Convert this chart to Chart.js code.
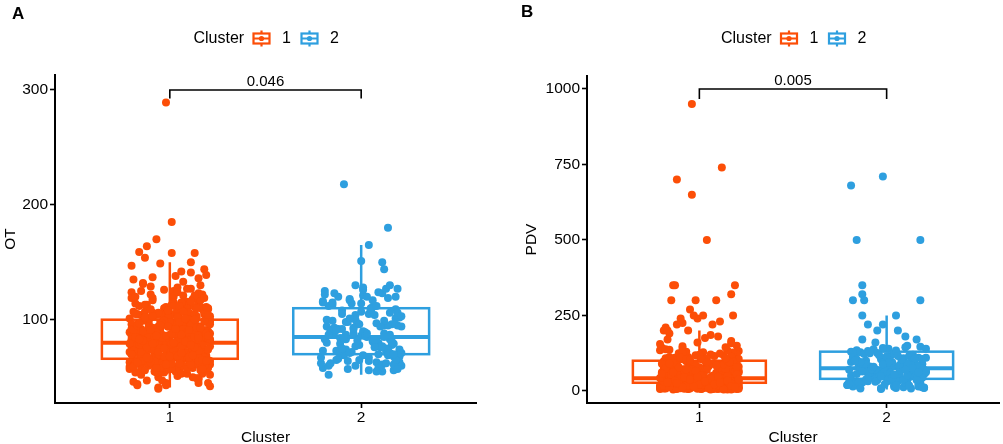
<!DOCTYPE html>
<html><head><meta charset="utf-8">
<script src="https://cdn.jsdelivr.net/npm/chart.js@4.4.1/dist/chart.umd.min.js"></script>
<style>
html,body{margin:0;padding:0;background:#fff;}
#wrap{position:relative;width:1003px;height:444px;overflow:hidden;}
.pane{position:absolute;top:0;height:444px;}
#pa{left:0;width:500px;} #pb{left:500px;width:503px;}
</style></head><body>
<div id="wrap">
  <div class="pane" id="pa"><canvas id="ca" width="500" height="444"></canvas></div>
  <div class="pane" id="pb"><canvas id="cb" width="503" height="444"></canvas></div>
</div>
<script>
// ---------- data ----------
const categories = ['1', '2'];
const legendTitle = 'Cluster';
const xTitle = 'Cluster';
const yTitles = ['OT', 'PDV'];
const panelLetters = ['A', 'B'];
const pLabels = ['0.046', '0.005'];
const yTicksA = [100, 200, 300];
const yTicksB = [0, 250, 500, 750, 1000];

// box stats: [lower whisker, Q1, median, Q3, upper whisker]
const otBox1 = [41, 66, 80, 100, 150];
const otBox2 = [52, 70, 85, 110, 165];
const pdvBox1 = [5, 27, 42, 100, 200];
const pdvBox2 = [5, 40, 75, 130, 250];

// significance brackets: [tip end, bracket level]
const bracketA = [292.5, 300];
const bracketB = [967, 1000];

// horizontal jitter of each observation (hundredths of a category)
const jitter1 = [
-18,5,12,-3,20,-11,7,-20,15,0,-7,19,-14,3,10,-16,8,-1,17,-9,
13,-19,2,21,-5,9,-12,16,-2,-17,6,11,-8,18,-15,4,-21,14,-6,1,
-13,20,7,-4,15,-18,10,-10,3,19,-20,8,-3,12,-14,17,-7,0,21,-11,
5,-16,18,-1,9,-19,14,-6,2,-12,20,-9,11,-17,6,16,-2,-15,13,4,
-8,21,-13,1,17,-4,10,-20,7,15,-10,3,-18,19,-5,12,-14,8,-21,0,
16,-7,4,-16,11,20,-11,6,-3,14,-19,9,18,-12,2,-6,13,-17,5,21,
-9,1,15,-20,8,-2,19,-13,10,-8,3,17,-15,12,-1,20,-18,7,-10,14,
-5,11,-21,6,16,-14,0,18,-7,9,-17,13,-4,21,-12,4,15,-19,2,-9,
19,-3,8,-15,12,-10,17,-1,5,-20,14,-6,10,-13,20,1,-16,7,-8,16,
-2,13,-18,3,21,-11,9,-5,15,-14,6,18,-9,0,11,-19,4,17,-6,-12,
7,-15,20,-4,13,-20,1,16,-11,9,-7,18,-2,12,-18,5,-13,19,-9,3,
-19,10,-6,15,-1,21,-14,6,-10,17,-3,11,-16,2,20,-8,14,-12,8,-5,
14,-21,4,-9,18,-4,11,-17,0,13,-12,21,-7,6,-15,16,-2,9,-19,12,
-11,3,17,-14,8,-6,19,-1,15,-18,5,-10,20,-3,10,-16,1,18,-13,7,
2,-17,12,-8,21,-12,6,15,-5,9,-20,17,-1,13,-9,4,-14,19,-6,11,
-16,9,3,-10,18,-3,13,-19,7,0,-13,20,-6,15,-21,10,-1,5,-11,17,
11,-5,-18,14,1,-9,19,-14,6,-2,16,-20,8,3,-7,12,-17,21,-4,0,
-20,15,-8,5,19,-12,2,10,-16,13,-1,-6,18,-11,7,-19,14,4,-3,9,
6,-13,17,-7,-15,11,-2,20,-10,3,14,-18,1,8,-5,19,-12,16,-21,-8,
-3,18,-11,12,-6,4,21,-17,9,-14,0,15,-9,6,20,-4,11,-15,2,-19,
17,-1,8,-20,13,-7,3,-12,19,-4,10,-16,15,5,-10,1,-18,12,-2,20,
-14,7,-19,16,0,-8,12,4,-15,21,-6,9,-13,18,2,-11,14,-3,6,-17,
10,-21,5,-2,15,-9,20,-12,1,17,-5,13,-16,8,-20,3,19,-7,11,-1
];
const jitter2 = [
12,-17,4,19,-8,1,-20,15,-3,9,-12,20,-6,7,-15,17,2,-10,13,-19,
6,-1,18,-14,10,-5,21,-18,3,14,-9,0,16,-21,8,-4,11,-13,19,-7,
-16,5,20,-11,1,13,-2,17,-20,9,-8,15,4,-14,21,-6,10,-18,7,-3,
18,-12,2,-19,14,-7,11,0,-15,19,-4,8,-10,16,3,-21,12,-1,6,-17,
-9,20,-5,13,-13,1,17,-20,10,-2,15,-11,5,-16,21,-8,9,14,-3,7,
-14,11,0,-18,16,-6,4,19,-10,12,
-11,7,17,-4,2,-15,13,-8,20,5,-19,9,-1,15,-12,3,18,-6,11,-16,
8,-20,14,-3,-9,19,1,-13,16,6,-7,12,-17,4,21,-10,10,-2,-14,17
];

// OT values, cluster 1 and cluster 2
const otC1 = [
72,95,58,110,83,64,121,77,49,101,88,69,132,55,92,75,116,61,84,106,
67,79,125,52,98,71,113,86,45,93,60,127,81,74,104,57,89,118,66,97,
103,62,76,47,115,85,70,129,59,91,78,108,54,96,73,122,65,87,42,100,
82,112,56,94,68,135,80,50,105,63,90,119,76,44,99,71,111,58,86,128,
61,88,107,74,53,97,83,124,66,48,102,79,114,57,92,69,131,84,63,95,
117,70,51,89,78,109,60,94,126,73,46,101,85,67,120,55,98,77,106,64,
90,57,123,81,69,43,104,75,112,62,93,87,52,118,72,99,65,133,80,49,
76,103,59,91,130,68,85,110,54,96,71,121,63,82,47,107,88,74,115,61,
98,66,84,125,50,92,78,108,58,119,73,87,64,102,45,95,81,113,69,90,
56,111,79,67,100,86,127,62,94,75,53,105,83,70,116,60,97,77,41,89,
78,92,65,104,71,86,113,59,97,82,68,109,75,90,54,101,80,63,117,87,
93,70,84,61,108,77,99,66,122,85,57,96,73,112,81,64,103,89,69,79,
66,101,83,74,119,58,91,105,72,87,62,98,80,114,68,94,76,53,107,85,
88,73,110,64,95,81,56,102,76,120,69,90,84,61,106,78,97,67,113,82,
75,96,62,86,103,70,115,79,58,92,83,109,66,99,74,124,87,60,94,77,
84,71,97,63,88,76,105,59,92,80,68,110,74,86,57,99,81,66,94,78,
70,89,62,101,77,93,65,85,108,73,56,96,82,69,104,75,90,61,87,98,
92,67,80,112,58,86,74,100,63,95,79,70,107,84,60,91,76,103,68,83,
77,102,64,89,72,96,81,58,109,69,93,85,62,100,75,88,66,111,79,55,
99,60,87,74,106,68,83,95,57,90,78,64,103,71,86,97,61,80,92,73,
65,94,81,70,100,58,88,76,111,84,67,97,73,62,91,79,105,69,86,74,
82,107,59,93,68,85,77,102,64,96,72,89,56,99,80,66,110,75,87,63,
91,72,98,61,84,79,104,67,88,57,95,76,83,101,70,92,64,86,78,108
];
const otC2 = [
88,112,67,95,74,121,58,83,104,70,92,63,117,79,99,56,86,108,72,125,
81,65,101,90,76,114,60,94,85,119,69,107,78,62,97,88,123,73,103,57,
91,110,68,84,126,75,96,61,115,80,87,106,64,93,71,118,59,100,82,77,
109,66,89,122,74,98,55,86,113,70,92,63,105,81,120,67,95,78,111,60,
84,102,72,127,65,90,79,116,58,97,87,73,108,62,94,83,124,69,100,76,
89,61,114,80,96,71,105,57,92,85,
79,104,68,93,86,115,62,98,74,109,83,58,96,71,120,88,65,101,77,90,
112,73,95,60,84,106,69,91,80,117,64,99,87,56,103,75,94,82,123,70
];
// further OT observations with their own jitter
const otExtra1 = [289,185,170,164,159,154,147,158,158,150,149,142,141,144,139,137,136,138,40,43,45];
const otExtra1Jit = [-2,1,-7,-12,-16,-13,-20,1,13,11,-5,6,11,18,19,-9,15,3,-6,-17,15];
const otExtra2 = [218,180,165,151,150,144,130,127,120,130,128,52,55];
const otExtra2Jit = [-9,14,4,0,11,12,15,19,18,-3,1,-17,8];

// PDV values, cluster 1 and cluster 2
const pdvC1 = [
12,35,88,20,150,31,6,62,27,115,18,40,9,73,33,190,24,52,14,105,
38,8,128,29,45,16,96,36,22,170,11,58,30,82,19,42,135,26,7,68,
110,34,15,48,23,210,39,10,77,28,143,17,55,37,5,92,25,120,13,44,
32,65,21,160,8,41,100,27,14,85,36,225,19,50,30,11,118,24,70,39,
16,132,28,6,60,35,180,22,90,12,47,31,108,18,40,9,75,26,155,33,
20,98,37,13,54,29,125,7,43,24,200,15,66,34,10,112,27,46,21,80,
140,31,9,57,38,17,102,25,6,72,35,165,14,49,29,122,20,40,11,94,
26,60,15,185,33,8,78,23,130,37,12,51,28,106,19,41,5,87,30,148,
42,18,116,26,10,64,34,240,21,53,13,97,36,7,45,27,136,16,71,32,
11,83,24,175,38,14,56,29,103,9,44,22,126,35,17,69,30,158,6,48,
22,70,8,45,118,30,14,92,36,60,19,127,27,10,84,40,16,55,33,100,
12,48,26,134,7,66,38,21,110,29,15,76,42,9,58,24,145,34,18,88,
31,6,95,23,52,13,124,37,20,68,28,11,104,41,17,62,35,8,80,25,
44,15,113,32,9,74,26,56,19,138,39,12,86,30,64,22,7,98,36,50,
18,82,29,10,61,43,121,16,35,90,24,5,72,38,14,107,27,47,11,66,
15,52,28,9,74,36,20,98,12,44,31,6,63,24,17,85,39,11,57,27,
33,8,46,21,105,14,68,30,5,54,25,90,18,41,10,76,35,22,60,13,
48,26,7,82,34,16,59,29,112,11,42,23,70,37,6,51,19,95,28,40,
9,65,32,17,50,25,87,13,38,22,73,8,45,30,102,15,56,27,10,67,
36,19,78,12,43,28,7,61,33,93,20,49,14,38,25,71,9,53,31,16,
24,58,11,40,88,18,35,6,64,29,47,13,99,26,42,20,75,8,37,55,
62,14,30,96,21,45,10,69,27,39,17,84,33,7,52,23,108,15,41,29,
19,43,8,66,34,12,79,26,50,16,38,5,91,22,57,31,13,72,28,46
];
const pdvC2 = [
45,120,18,88,62,140,30,75,105,12,95,55,160,38,82,22,115,68,8,130,
50,98,25,72,145,35,110,15,85,60,125,42,78,20,102,65,150,28,90,48,
135,10,70,100,33,118,58,80,24,108,46,92,14,128,66,40,86,112,52,6,
76,122,36,96,60,138,27,84,16,106,54,74,132,44,94,20,116,64,32,100,
81,11,126,56,90,40,110,70,26,142,48,88,18,104,62,78,36,120,9,68,
96,52,114,30,84,72,124,44,58,92,
38,86,15,118,60,28,96,72,10,134,50,82,22,108,66,42,146,30,90,56,
104,24,76,48,128,12,94,64,36,116,80,18,100,54,140,32,70,88,8,62
];
const pdvExtra1 = [950,700,650,740,500,350,350,350,320,300,300,300,270,250,250,250,240,230,220,220,200,200];
const pdvExtra1Jit = [-4,-12,-4,12,4,-14,-13,19,17,-15,-2,9,-5,-3,2,18,-10,11,-12,7,-17,-6];
const pdvExtra2 = [710,680,500,500,350,320,300,300,300,250,250,220,220,200,200,180,170,170];
const pdvExtra2Jit = [-2,-19,-16,18,-13,-13,-18,-12,18,-13,5,-10,-2,-5,6,10,-13,16];

// ---------- styling ----------
const FONT = "'Liberation Sans', Arial, Helvetica, sans-serif";
const COLORS = ['#FC4E07', '#2E9FDF'];

function toPoints(cat, jit, vals) {
  return vals.map((v, i) => ({ x: cat + jit[i] / 100, y: v }));
}

const panelPlugin = {
  id: 'panel',
  beforeDatasetsDraw(chart, args, o) {
    const { ctx, scales: { x, y } } = chart;
    o.boxes.forEach((b, i) => {
      const c = i + 1;
      const cx = x.getPixelForValue(c);
      const l = x.getPixelForValue(c - o.halfWidth), r = x.getPixelForValue(c + o.halfWidth);
      const [mn, q1, md, q3, mx] = b.map(v => y.getPixelForValue(v));
      ctx.save();
      ctx.strokeStyle = COLORS[i];
      ctx.lineWidth = 2.5;
      ctx.beginPath();
      ctx.moveTo(cx, q3); ctx.lineTo(cx, mx);
      ctx.moveTo(cx, q1); ctx.lineTo(cx, mn);
      ctx.stroke();
      ctx.strokeRect(l, q3, r - l, q1 - q3);
      ctx.lineWidth = 4;
      ctx.beginPath(); ctx.moveTo(l, md); ctx.lineTo(r, md); ctx.stroke();
      ctx.restore();
    });
  },
  afterDraw(chart, args, o) {
    const { ctx, scales: { x, y }, chartArea } = chart;
    ctx.save();
    // bracket
    const x1 = x.getPixelForValue(1), x2 = x.getPixelForValue(2);
    const yt = y.getPixelForValue(o.bracket[0]), yb = y.getPixelForValue(o.bracket[1]);
    ctx.strokeStyle = '#000'; ctx.lineWidth = 1.6;
    ctx.beginPath();
    ctx.moveTo(x1, yt); ctx.lineTo(x1, yb); ctx.lineTo(x2, yb); ctx.lineTo(x2, yt);
    ctx.stroke();
    ctx.fillStyle = '#000';
    ctx.font = '15px ' + FONT;
    ctx.textAlign = 'center'; ctx.textBaseline = 'alphabetic';
    ctx.fillText(o.pLabel, (x1 + x2) / 2, yb - 4);
    // legend
    const cx = (chartArea.left + chartArea.right) / 2;
    const ly = 38.5;
    ctx.font = '16px ' + FONT;
    ctx.textAlign = 'left'; ctx.textBaseline = 'middle';
    ctx.fillText(legendTitle, cx - 72, ly);
    const iconX = [cx - 4, cx + 44];
    const labX = [cx + 21, cx + 69];
    categories.forEach((c, i) => {
      const ix = iconX[i];
      ctx.strokeStyle = COLORS[i]; ctx.fillStyle = COLORS[i];
      ctx.lineWidth = 2.2;
      ctx.strokeRect(ix - 8, ly - 5, 16, 10);
      ctx.beginPath();
      ctx.moveTo(ix - 8, ly); ctx.lineTo(ix + 8, ly);
      ctx.moveTo(ix, ly - 5); ctx.lineTo(ix, ly - 8);
      ctx.moveTo(ix, ly + 5); ctx.lineTo(ix, ly + 8);
      ctx.stroke();
      ctx.beginPath(); ctx.arc(ix, ly, 2.6, 0, Math.PI * 2); ctx.fill();
      ctx.fillStyle = '#000'; ctx.textAlign = 'center';
      ctx.fillText(c, labX[i], ly);
    });
    // panel letter
    ctx.font = 'bold 17px ' + FONT;
    ctx.textAlign = 'left'; ctx.textBaseline = 'alphabetic';
    ctx.fillStyle = '#000';
    ctx.fillText(o.letter, o.letterPos[0], o.letterPos[1]);
    ctx.restore();
  }
};

function makeChart(id, p) {
  const tickFont = { family: FONT, size: 15.5 };
  const axisCommon = {
    grid: { display: true, drawOnChartArea: false, drawTicks: true, tickLength: 5, tickColor: '#000', tickWidth: 1.6 },
    border: { display: true, color: '#000', width: 2 }
  };
  return new Chart(document.getElementById(id), {
    type: 'scatter',
    data: {
      datasets: [
        { data: toPoints(1, jitter1, p.v1).concat(toPoints(1, p.e1j, p.e1)),
          backgroundColor: COLORS[0], borderWidth: 0, pointRadius: 4, pointHoverRadius: 4 },
        { data: toPoints(2, jitter2, p.v2).concat(toPoints(2, p.e2j, p.e2)),
          backgroundColor: COLORS[1], borderWidth: 0, pointRadius: 4, pointHoverRadius: 4 }
      ]
    },
    options: {
      responsive: false,
      animation: false,
      devicePixelRatio: 1,
      layout: { padding: { left: p.padLeft, right: p.padRight, top: p.padTop, bottom: 0 } },
      plugins: {
        legend: { display: false },
        tooltip: { enabled: false },
        panel: { boxes: p.boxes, halfWidth: 0.355, bracket: p.bracket, pLabel: p.pLabel, letter: p.letter, letterPos: p.letterPos }
      },
      scales: {
        x: Object.assign({
          type: 'linear', min: 0.4, max: 2.6,
          afterBuildTicks: s => { s.ticks = categories.map((c, i) => ({ value: i + 1 })); },
          afterFit: s => { s.height = 41; },
          ticks: { color: '#000', font: tickFont, padding: 0, maxRotation: 0, autoSkip: false,
                   callback: v => categories[Math.round(v) - 1] },
          title: { display: true, text: xTitle, color: '#000', font: tickFont, padding: { top: 0, bottom: -3 } }
        }, axisCommon),
        y: Object.assign({
          min: p.ymin, max: p.ymax,
          afterBuildTicks: s => { s.ticks = p.yticks.map(v => ({ value: v })); },
          afterFit: s => { s.width = p.yWidth; },
          ticks: { color: '#000', font: tickFont, padding: 2, callback: v => String(v) },
          title: { display: true, text: p.ytitle, color: '#000', font: tickFont, padding: { top: 0, bottom: 0 } }
        }, axisCommon)
      }
    },
    plugins: [panelPlugin]
  });
}

makeChart('ca', {
  v1: otC1, v2: otC2, e1: otExtra1, e1j: otExtra1Jit, e2: otExtra2, e2j: otExtra2Jit,
  boxes: [otBox1, otBox2], bracket: bracketA, pLabel: pLabels[0], letter: panelLetters[0], letterPos: [12, 18.5],
  ymin: 27.5, ymax: 313, yticks: yTicksA, ytitle: yTitles[0], padLeft: 1, yWidth: 54, padRight: 24, padTop: 75
});
makeChart('cb', {
  v1: pdvC1, v2: pdvC2, e1: pdvExtra1, e1j: pdvExtra1Jit, e2: pdvExtra2, e2j: pdvExtra2Jit,
  boxes: [pdvBox1, pdvBox2], bracket: bracketB, pLabel: pLabels[1], letter: panelLetters[1], letterPos: [21, 16.7],
  ymin: -40, ymax: 1043, yticks: yTicksB, ytitle: yTitles[1], padLeft: 22, yWidth: 65, padRight: 3, padTop: 76
});
</script>
</body></html>
